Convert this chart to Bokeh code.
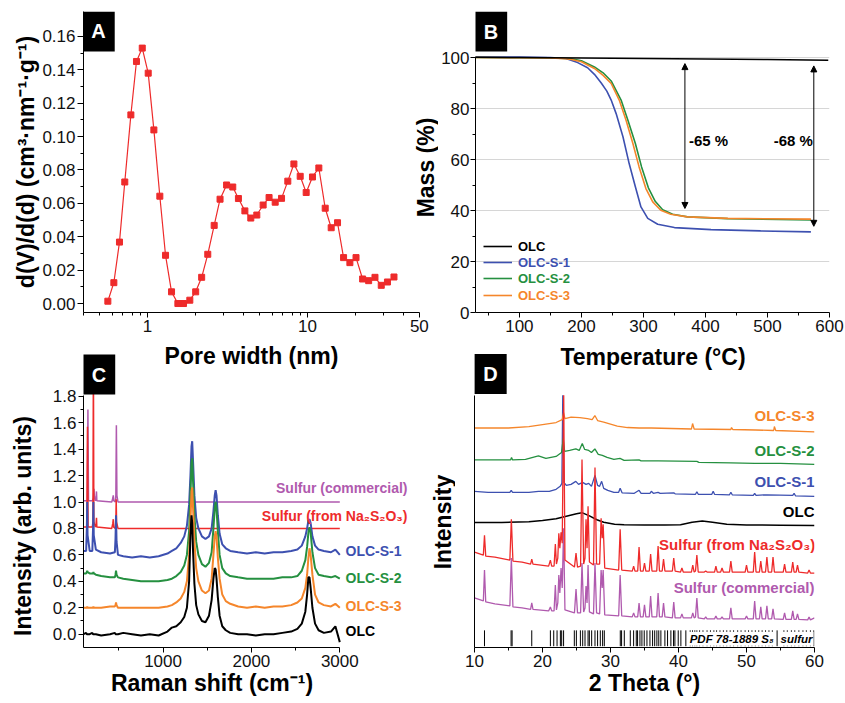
import math
from bokeh.plotting import figure
from bokeh.models import (Range1d, FixedTicker, NumeralTickFormatter, Label, Legend,
                          LegendItem, Arrow, NormalHead, ColumnDataSource)
from bokeh.layouts import row, column
from bokeh.embed import file_html
from bokeh.resources import INLINE

FONT = "Liberation Sans"
BLACK = "#000000"
BLUE = "#3d50b0"
GREEN = "#259040"
ORANGE = "#f5862b"
RED = "#ee2b2b"
PURPLE = "#b05aae"

# ---------------- Panel A: pore size distribution ----------------
pore_width = [0.565, 0.616, 0.668, 0.721, 0.787, 0.853, 0.927, 1.01, 1.096, 1.194, 1.296, 1.413,
              1.548, 1.679, 1.838, 2.0, 2.18, 2.38, 2.61, 2.84, 3.12, 3.41, 3.7, 4.06, 4.42, 4.82,
              5.28, 5.75, 6.28, 6.88, 7.53, 8.22, 9.0, 9.81, 10.74, 11.77, 12.9, 14.06, 15.4, 16.8,
              18.4, 20.1, 22.1, 24.1, 26.4, 28.9, 31.6, 34.7]
pore_dvdd = [0.0014, 0.0125, 0.0368, 0.0728, 0.113, 0.145, 0.153, 0.138, 0.104, 0.0643, 0.0289,
             0.007, 0.0, 0.0, 0.002, 0.007, 0.0157, 0.0295, 0.0468, 0.0625, 0.071, 0.0698, 0.0629,
             0.0555, 0.0512, 0.053, 0.059, 0.0635, 0.0607, 0.063, 0.0733, 0.0836, 0.0762, 0.0665,
             0.0758, 0.0812, 0.0571, 0.0454, 0.0484, 0.0275, 0.0245, 0.0275, 0.0147, 0.0137,
             0.0157, 0.0109, 0.0129, 0.0159]

# ---------------- Panel B: TGA ----------------
tga_t_olc = [30, 100, 200, 300, 400, 500, 598]
tga_m_olc = [100.1, 100.0, 99.8, 99.6, 99.4, 99.2, 98.95]
tga_t_s1 = [30, 100, 150, 175, 194, 210, 221, 232, 241, 248, 256, 267, 277, 287, 296, 307, 323,
            350, 409, 489, 570]
tga_m_s1 = [100.2, 100.2, 100.0, 99.6, 98.0, 96.0, 93.4, 90.0, 86.8, 83.3, 78.0, 68.9, 58.4, 49.3,
            41.4, 36.9, 34.6, 33.3, 32.5, 32.0, 31.6]
tga_t_s2 = [30, 100, 150, 175, 184, 200, 221, 235, 248, 264, 275, 287, 297, 308, 319, 331, 347,
            371, 436, 570]
tga_m_s2 = [100.0, 99.9, 99.8, 99.6, 99.5, 98.7, 96.3, 94.0, 90.8, 83.3, 75.4, 66.3, 57.1, 48.9,
            43.6, 40.3, 38.5, 37.5, 36.8, 36.3]
tga_t_s3 = [30, 100, 150, 175, 184, 200, 221, 235, 248, 261, 272, 283, 293, 304, 315, 328, 344,
            371, 436, 570]
tga_m_s3 = [100.0, 99.9, 99.8, 99.5, 99.2, 98.3, 95.7, 93.0, 89.8, 83.3, 75.4, 66.3, 57.1, 48.6,
            43.4, 40.1, 38.5, 37.5, 36.9, 36.6]
loss_x = [366.9, 574.7]
loss_top = [97.6, 96.7]
loss_bottom = [40.8, 33.8]
loss_text = ["-65 %", "-68 %"]

# ---------------- Panel C: Raman ----------------
raman_x = [100, 130, 138, 142, 146, 170, 200, 208, 212, 216, 240, 300, 400, 455, 462, 468, 474,
           490, 550, 650, 750, 850, 950, 1050, 1100, 1150, 1200, 1240, 1270, 1295, 1310, 1322,
           1330, 1340, 1355, 1375, 1400, 1440, 1480, 1520, 1550, 1570, 1585, 1595, 1605, 1620,
           1640, 1670, 1710, 1760, 1850, 1950, 2050, 2150, 2250, 2350, 2450, 2520, 2570, 2610,
           2630, 2645, 2657, 2670, 2690, 2720, 2760, 2820, 2900, 2950, 3000]
raman_s1 = [.63, .63, .8, 1.0, .75, .63, .63, .8, 1.0, .75, .64, .62, .61, .62, .72, .9, .7, .6,
            .59, .58, .59, .58, .59, .61, .63, .65, .69, .74, .82, .98, 1.2, 1.42, 1.46, 1.3,
            1.05, .88, .8, .74, .72, .74, .8, .93, 1.05, 1.09, 1.05, .9, .76, .68, .65, .63, .62,
            .61, .62, .61, .62, .62, .63, .64, .67, .74, .8, .86, .87, .84, .74, .67, .64, .63,
            .62, .64, .6]
raman_s2 = [.46, .46, .47, .48, .47, .46, .46, .46, .47, .46, .45, .44, .43, .43, .45, .48, .45,
            .43, .42, .41, .40, .40, .40, .41, .42, .44, .47, .52, .6, .78, 1.05, 1.3, 1.33, 1.15,
            .9, .7, .6, .53, .51, .54, .62, .8, .95, 1.0, .95, .78, .6, .5, .46, .44, .43, .42,
            .42, .42, .42, .43, .43, .44, .48, .56, .66, .77, .81, .77, .62, .5, .45, .44, .43,
            .44, .42]
raman_s3 = [.2, .2, .2, .21, .2, .2, .2, .2, .21, .2, .2, .2, .21, .21, .22, .24, .22, .2, .2,
            .2, .2, .2, .2, .21, .22, .24, .27, .32, .4, .6, .85, 1.08, 1.11, .95, .7, .5, .4,
            .33, .31, .33, .42, .6, .74, .78, .74, .58, .42, .3, .25, .23, .21, .2, .21, .2, .21,
            .21, .22, .24, .27, .35, .45, .58, .65, .6, .45, .3, .24, .22, .21, .23, .2]
raman_olc = [.0, .01, .0, .0, .0, .0, .01, .0, .0, .0, .0, -.01, .0, .01, .0, .0, .0, .0, .01,
             .0, -.01, .0, -.01, .02, .05, .06, .09, .13, .2, .4, .75, .9, .84, .62, .38, .22,
             .15, .1, .09, .14, .26, .42, .5, .49, .42, .28, .14, .06, .03, .01, .0, .0, -.01,
             .0, .0, .01, .02, .04, .08, .17, .3, .43, .43, .35, .2, .08, .03, .01, .02, .06,
             -.06]
raman_na_x = [100, 138, 145, 152, 200, 207, 212, 217, 235, 243, 247, 251, 420, 432, 437, 442,
              460, 466, 470, 474, 490, 3000]
raman_na_y = [0.81, 0.81, 1.57, 0.81, 0.81, 0.85, 2.1, 0.85, 0.81, 0.84, 0.88, 0.81, 0.80, 0.84,
              0.87, 0.81, 0.80, 0.85, 1.02, 0.85, 0.80, 0.80]
raman_com_x = [100, 142, 150, 157, 200, 212, 218, 224, 235, 243, 247, 251, 420, 432, 437, 442,
               460, 466, 472, 478, 490, 3000]
raman_com_y = [1.01, 1.01, 1.70, 1.01, 1.01, 1.03, 1.1, 1.03, 1.01, 1.04, 1.08, 1.01, 1.0, 1.03,
               1.05, 1.01, 1.0, 1.05, 1.58, 1.05, 1.0, 1.0]

# ---------------- Panel D: XRD ----------------
xrd_s3_x = [10, 15, 18, 20, 22, 22.9, 23.1, 23.3, 24.2, 25.5, 26.6, 27.3, 27.7, 28.1, 29, 30, 31,
            32.5, 34.2, 36, 41.9, 42.07, 42.3, 47.7, 47.8, 48, 51.3, 54.0, 54.1, 54.3, 60]
xrd_s3_y = [220.5, 220.5, 222, 224, 226, 229, 236, 230, 231.5, 231, 230, 229, 233, 228, 226.5,
            224.5, 222.5, 221, 220.5, 220.5, 219.5, 225, 219.5, 219, 221, 219, 218.5, 218, 222,
            218, 216.6]
xrd_s2_x = [10, 13, 15.3, 15.45, 15.6, 17.5, 19.4, 20.5, 22.0, 22.8, 23.05, 23.25, 24.0, 24.9,
            25.4, 25.85, 26.2, 26.8, 27.2, 27.7, 28.2, 28.8, 29.5, 30.5, 31.4, 32, 34.2, 34.5, 37,
            42.7, 43, 47.7, 51.2, 55, 60]
xrd_s2_y = [188.5, 188.5, 188.5, 191, 188.5, 189, 192.5, 190, 192, 196, 210, 197, 198, 199.5,
            198, 205, 199, 198, 196, 199.5, 194, 193, 191, 189, 190, 188, 188.5, 187.5, 187.5,
            187, 186, 185.5, 185, 185, 184]
xrd_s1_x = [10, 12, 15.2, 15.4, 15.6, 18, 19.4, 21, 22, 22.6, 22.85, 22.98, 23.15, 23.5, 24.2,
            24.9, 25.3, 25.9, 26.4, 26.8, 27.2, 27.72, 28.1, 28.4, 28.7, 29.0, 29.6, 30.5, 31.2,
            31.42, 31.7, 33.5, 34.2, 34.5, 35.8, 36.0, 36.3, 37.0, 37.3, 39.3, 39.5, 42.5, 42.7,
            42.9, 44.9, 45.1, 45.3, 47.5, 47.7, 47.9, 51.0, 51.2, 51.4, 53.0, 56.8, 57.0, 57.2,
            60.0]
xrd_s1_y = [157, 156, 156, 158, 156, 156, 157, 157, 159, 162, 165, 253.3, 166, 163, 164, 167, 164,
            166, 164, 165, 162, 173, 163, 162, 167, 160, 158, 156, 156, 160, 155.5, 155, 158, 155,
            155, 157, 155, 156, 155, 155.5, 154.5, 154, 156.5, 154, 154, 157, 154, 153.5, 156,
            153.5, 153, 155, 153, 153.5, 153, 155, 152.5, 152]
xrd_olc_x = [10, 14, 18, 20, 22, 23.5, 25, 25.8, 26.9, 28, 29, 30.6, 32, 35, 38, 40.3, 42, 43.5,
             45, 47.1, 50, 55, 60]
xrd_olc_y = [125.6, 125.7, 126.5, 127.6, 129.5, 132, 134.5, 135.6, 132.3, 128.5, 126, 124, 123.5,
             123.3, 123.3, 123.5, 126, 127.3, 126, 124, 123.3, 123, 122.6]
xrd_na_x = [10.0, 11.3, 11.47, 11.65, 13.0, 15.2, 15.42, 15.65, 17.0, 18.25, 18.42, 18.6, 20.9,
            21.16, 21.35, 21.7, 21.89, 22.05, 22.25, 22.4, 22.55, 22.73, 22.9, 23.12, 23.3, 24.7,
            24.93, 25.15, 25.6, 25.81, 26.05, 26.25, 26.4, 26.55, 26.7, 26.9, 27.5, 27.72, 27.95,
            28.4, 28.62, 28.78, 28.92, 29.15, 31.2, 31.42, 31.65, 33.2, 33.4, 33.6, 34.0, 34.2,
            34.4, 34.8, 35.0, 35.2, 35.7, 35.9, 36.1, 36.8, 37.0, 37.2, 37.6, 37.8, 38.0, 39.1,
            39.3, 39.5, 40.3, 40.5, 40.7, 41.9, 42.1, 42.3, 42.5, 42.7, 42.9, 43.8, 44.0, 44.2,
            45.3, 45.5, 45.7, 46.2, 46.4, 46.6, 47.5, 47.7, 47.9, 49.8, 50.0, 50.2, 51.0, 51.2,
            51.4, 51.9, 52.1, 52.3, 52.8, 53.0, 53.2, 53.7, 53.9, 54.1, 55.4, 55.6, 55.8, 56.6,
            56.8, 57.0, 57.3, 57.5, 57.7, 59.0, 59.2, 59.4, 60.0]
xrd_na_y = [96, 93, 113, 92, 91, 88, 129, 87, 86, 84, 89, 84, 82, 88, 82, 82, 104, 84, 90, 115,
            100, 116, 105, 253.3, 88, 81, 95, 81, 82, 189, 84, 90, 129, 100, 142, 86, 83, 181, 84,
            84, 130, 110, 124, 80, 78, 119, 78, 77, 82, 77, 77, 101, 77, 77, 85, 77, 77, 94, 77,
            77, 102, 77, 77, 89, 77, 77, 90, 77, 76, 80, 76, 76, 83, 76, 77, 93, 76, 76, 77, 76,
            76, 82, 76, 76, 80, 76, 76, 87, 76, 76, 83, 76, 76, 96, 76, 76, 87, 76, 76, 91, 76,
            76, 91, 76, 76, 84, 76, 76, 86, 76, 76, 83, 76, 75, 78, 75, 75]
xrd_com_x = xrd_na_x[:23] + [23.1] + xrd_na_x[24:]
xrd_com_y = [50, 47, 78, 46, 44, 42, 90, 41, 40, 38.5, 45, 38.5, 37, 41, 37, 37, 63, 38, 45, 73,
             55, 80, 60, 120, 38, 35, 59, 35, 35, 85, 36, 40, 62, 45, 83, 36, 34, 85, 35, 34, 78,
             60, 78, 33, 32, 73, 32, 31, 35, 31, 31, 45, 31, 31, 43, 31, 31, 52, 31, 31, 55, 31,
             31, 45, 31, 30, 46, 30, 30, 34, 30, 30, 35, 30, 31, 50, 30, 29, 31, 29, 29, 32, 29,
             29, 31, 29, 29, 40, 29, 29, 32, 29, 29, 47, 29, 29, 41, 29, 29, 42, 29, 29, 39, 29,
             28.5, 35, 28.5, 28.5, 37, 28.5, 28.5, 34, 28.5, 28, 31, 28, 30]
pdf_sticks = [11.47, 15.38, 15.53, 18.42, 21.16, 21.65, 22.14, 22.63, 22.82, 23.1, 24.68, 24.98,
              25.57, 25.91, 26.25, 26.7, 26.89, 27.23, 27.72, 28.1, 28.5, 28.84, 29.09, 31.44,
              31.63, 32.03, 32.91, 33.4, 33.79, 33.98, 34.33, 34.62, 34.96, 35.36, 35.8, 36.19,
              36.5, 36.82, 37.1, 37.41, 38.0, 38.39, 38.88, 39.27, 39.47, 39.96, 40.35, 41.08,
              41.72, 42.06, 42.4, 42.7, 43.1, 43.6, 44.2, 44.7, 45.2, 45.6, 46.1, 46.6, 47.1,
              47.6, 48.1, 48.7, 49.2, 49.8, 50.3, 50.8, 51.3, 51.8, 52.3, 52.8, 53.3, 53.8, 54.5,
              55.5, 56.0, 56.6, 57.1, 57.7, 58.3, 58.8, 59.4, 59.9]


# ---- page-pixel -> data helpers (layout only; used to place annotations) ----
def ax_(px):
    return 10 ** (math.log10(0.398) + (px - 83) / 160.0)


def ay_(py):
    return (304 - py) / 1675.0


def bx_(px):
    return 100 + (px - 518) / 0.622


def by_(py):
    return (312 - py) / 2.55


def cx_(px):
    return 100 + (px - 83) / 0.08838


def cy_(py):
    return (633.7 - py) / 132.2


def dx_(px):
    return 10 + (px - 474) / 6.82


def dy_(py):
    return 648.3 - py


def make_fig(w, h, xr, yr, bl, br, bt, bb, x_axis_type="linear"):
    p = figure(width=w, height=h, x_range=xr, y_range=yr, x_axis_type=x_axis_type,
               output_backend="svg", toolbar_location=None, title=None,
               min_border_left=bl, min_border_right=br, min_border_top=bt,
               min_border_bottom=bb)
    p.outline_line_color = None
    p.xgrid.visible = False
    p.ygrid.visible = False
    p.background_fill_color = "white"
    p.border_fill_color = "white"
    for ax in (p.xaxis[0], p.yaxis[0]):
        ax.axis_line_color = "black"
        ax.axis_line_width = 1
        ax.major_tick_line_color = "black"
        ax.minor_tick_line_color = "black"
        ax.major_tick_in = 0
        ax.major_tick_out = 5
        ax.minor_tick_in = 0
        ax.minor_tick_out = 3
        ax.major_label_text_font = FONT
        ax.major_label_text_font_size = "17px"
        ax.major_label_text_color = "#111111"
        ax.major_label_standoff = 2
        ax.axis_label_text_font = FONT
        ax.axis_label_text_font_size = "23px"
        ax.axis_label_text_font_style = "bold"
        ax.axis_label_text_color = "black"
        ax.axis_label_standoff = 0
    return p


def add_text(p, x, y, text, size, color="black", angle=0.0, align="left",
             baseline="middle", style="bold", bg=None, pad=0):
    kw = {}
    if bg is not None:
        kw["background_fill_color"] = bg
        kw["padding"] = pad
    lab = Label(x=x, y=y, x_units="data", y_units="data", text=text, angle=angle,
                text_font=FONT, text_font_size=f"{size}px", text_color=color,
                text_font_style=style, text_align=align, text_baseline=baseline, **kw)
    p.add_layout(lab)
    return lab


def panel_letter(p, x, y, letter):
    add_text(p, x, y, letter, 20, color="white", align="center", baseline="middle",
             bg="black", pad=9)


TITLE = 23
HALF_PI = math.pi / 2
EM = "\u2003"
EN = "\u2002"
THIN = "\u2009"

# ---------------- Panel A ----------------
pA = make_fig(438, 342, Range1d(ax_(83), ax_(438)), Range1d(ay_(313), ay_(11)), 83, 0, 11, 29,
              "log")
pA.xaxis.bounds = (ax_(83), 50)
pA.xaxis.ticker = FixedTicker(ticks=[1, 10, 50],
                              minor_ticks=[0.4, 0.5, 0.6, 0.7, 0.8, 0.9, 2, 3, 4, 5, 6, 7, 8, 9,
                                           20, 30, 40])
pA.xaxis.formatter = NumeralTickFormatter(format="0")
pA.yaxis.ticker = FixedTicker(ticks=[i * 0.02 for i in range(9)],
                              minor_ticks=[0.01 + i * 0.02 for i in range(8)])
pA.yaxis.formatter = NumeralTickFormatter(format="0.00")
pA.yaxis.major_tick_out = 6
pA.yaxis.axis_label = "d(V)/d(d) (cm³·nm⁻¹·g⁻¹)"
pA.line(pore_width, pore_dvdd, line_color=RED, line_width=1.2)
pA.scatter(pore_width, pore_dvdd, marker="square", size=6, fill_color=RED, line_color=RED)
panel_letter(pA, ax_(98), ay_(31), "A")
add_text(pA, ax_(425), ay_(167.5), "Mass (%)", TITLE, angle=HALF_PI, align="center",
         baseline="middle")

# ---------------- Panel B ----------------
pB = make_fig(406, 342, Range1d(bx_(474), bx_(829)), Range1d(0, by_(11)), 36, 15, 11, 30)
pB.yaxis.bounds = (0, 100.5)
pB.xaxis.ticker = FixedTicker(ticks=[100, 200, 300, 400, 500, 600],
                              minor_ticks=[50, 150, 250, 350, 450, 550])
pB.yaxis.ticker = FixedTicker(ticks=[0, 20, 40, 60, 80, 100], minor_ticks=[10, 30, 50, 70, 90])
pB.yaxis.major_label_standoff = 1
pB.ygrid.visible = True
pB.ygrid.ticker = FixedTicker(ticks=[20, 40, 60, 80, 100])
pB.ygrid.grid_line_color = "#d6d6d6"
pB.ygrid.grid_line_width = 1
r_s1 = pB.line(tga_t_s1, tga_m_s1, line_color=BLUE, line_width=1.6)
r_s2 = pB.line(tga_t_s2, tga_m_s2, line_color=GREEN, line_width=1.6)
r_s3 = pB.line(tga_t_s3, tga_m_s3, line_color=ORANGE, line_width=1.6)
r_olc = pB.line(tga_t_olc, tga_m_olc, line_color=BLACK, line_width=1.6)
for xa, yt, yb in zip(loss_x, loss_top, loss_bottom):
    pB.add_layout(Arrow(x_start=xa, y_start=yb, x_end=xa, y_end=yt, line_width=1,
                        line_color="black",
                        start=NormalHead(size=6, fill_color="black", line_color="black"),
                        end=NormalHead(size=6, fill_color="black", line_color="black")))
add_text(pB, bx_(688), by_(140), loss_text[0], 15)
add_text(pB, bx_(773), by_(140), loss_text[1], 15)
for (name, rend, col, vy) in [("OLC", r_olc, BLACK, 58), ("OLC-S-1", r_s1, BLUE, 42),
                              ("OLC-S-2", r_s2, GREEN, 26), ("OLC-S-3", r_s3, ORANGE, 9)]:
    lg = Legend(items=[LegendItem(label=name, renderers=[rend])], location=(8, vy),
                orientation="vertical", padding=0, margin=0, spacing=0, glyph_width=29,
                glyph_height=16, label_height=16, label_standoff=6, label_text_font=FONT,
                label_text_font_size="13px", label_text_font_style="bold",
                label_text_color=col, background_fill_alpha=0, border_line_alpha=0)
    pB.add_layout(lg)
panel_letter(pB, bx_(489.5), by_(31), "B")

# ---------------- Panel C ----------------
pC = make_fig(455, 360, Range1d(100, cx_(455)), Range1d(cy_(647), cy_(342)), 83, 0, 0, 55)
pC.xaxis.bounds = (100, 3000)
pC.yaxis.bounds = (cy_(647), 1.806)
pC.xaxis.ticker = FixedTicker(ticks=[1000, 2000, 3000], minor_ticks=[500, 1500, 2500])
pC.yaxis.ticker = FixedTicker(ticks=[i * 0.2 for i in range(10)],
                              minor_ticks=[0.1 + i * 0.2 for i in range(9)])
pC.yaxis.formatter = NumeralTickFormatter(format="0.0")
# trailing spaces keep the centred axis titles over the visible (bounded) part of the axes
pC.yaxis.axis_label = "Intensity (arb. units)" + EM + EM + EN + THIN
pC.yaxis.axis_label_standoff = 14
pC.xaxis.axis_label = "Raman shift (cm⁻¹)" + EM * 5
pC.line(raman_com_x, raman_com_y, line_color=PURPLE, line_width=1.5)
pC.line(raman_na_x, raman_na_y, line_color=RED, line_width=1.5)
pC.line(raman_x, raman_s1, line_color=BLUE, line_width=2)
pC.line(raman_x, raman_s2, line_color=GREEN, line_width=2)
pC.line(raman_x, raman_s3, line_color=ORANGE, line_width=2)
pC.line(raman_x, raman_olc, line_color=BLACK, line_width=2)
add_text(pC, cx_(407), cy_(487.3), "Sulfur (commercial)", 14, color=PURPLE, align="right")
add_text(pC, cx_(407), cy_(515), "Sulfur (from Na₂S₂O₃)", 14, color=RED, align="right")
add_text(pC, cx_(345), cy_(550), "OLC-S-1", 14, color=BLUE)
add_text(pC, cx_(345), cy_(577.3), "OLC-S-2", 14, color=GREEN)
add_text(pC, cx_(345), cy_(605), "OLC-S-3", 14, color=ORANGE)
add_text(pC, cx_(345), cy_(630.7), "OLC", 14, color=BLACK)
panel_letter(pC, cx_(98.5), cy_(374), "C")
add_text(pC, cx_(251), cy_(355.5), "Pore width (nm)", TITLE, align="center", baseline="middle")
add_text(pC, cx_(442.5), cy_(521.5), "Intensity", TITLE, angle=HALF_PI, align="center",
         baseline="middle")

# ---------------- Panel D ----------------
pD = make_fig(389, 360, Range1d(10, 60), Range1d(dy_(648), dy_(342)), 19, 30, 0, 54)
pD.yaxis.bounds = (dy_(648), 253.3)
pD.xaxis.ticker = FixedTicker(ticks=[10, 20, 30, 40, 50, 60], minor_ticks=[15, 25, 35, 45, 55])
pD.yaxis.ticker = FixedTicker(ticks=[])
pD.xaxis.axis_label = "2 Theta (°)"
stick_src = ColumnDataSource(dict(x=pdf_sticks))
pD.segment(x0="x", x1="x", y0=1.6, y1=17.5, source=stick_src, line_color="black", line_width=1)
pD.line(xrd_com_x, xrd_com_y, line_color=PURPLE, line_width=1.3)
pD.line(xrd_olc_x, xrd_olc_y, line_color=BLACK, line_width=1.5)
pD.line(xrd_s1_x, xrd_s1_y, line_color=BLUE, line_width=1.3)
pD.line(xrd_s2_x, xrd_s2_y, line_color=GREEN, line_width=1.3)
pD.line(xrd_s3_x, xrd_s3_y, line_color=ORANGE, line_width=1.3)
pD.line(xrd_na_x, xrd_na_y, line_color=RED, line_width=1.3)
add_text(pD, 60, 232.6, "OLC-S-3", 15, color=ORANGE, align="right")
add_text(pD, 60, 198.3, "OLC-S-2", 15, color=GREEN, align="right")
add_text(pD, 60, 166.6, "OLC-S-1", 15, color=BLUE, align="right")
add_text(pD, 60, 136.6, "OLC", 15, color=BLACK, align="right")
add_text(pD, 60.1, 103.3, "Sulfur (from Na₂S₂O₃)", 15, color=RED, align="right")
add_text(pD, 60, 60, "Sulfur (commercial)", 15, color=PURPLE, align="right")
add_text(pD, dx_(775), dy_(639.2), "PDF 78-1889 S₈", 11.5, align="right",
         baseline="middle", style="bold italic", bg="white", pad=1)
add_text(pD, dx_(780), dy_(639.2), "sulfur", 11.5, align="left",
         baseline="middle", style="bold italic", bg="white", pad=1)
panel_letter(pD, dx_(490), dy_(373.5), "D")
add_text(pD, dx_(653), dy_(357), "Temperature (°C)", TITLE, align="center",
         baseline="middle")

layout = column(row(pA, pB, spacing=0), row(pC, pD, spacing=0), spacing=0)

html = file_html(layout, INLINE, title="OLC sulfur characterization")
with open("out.html", "w") as f:
    f.write(html)
